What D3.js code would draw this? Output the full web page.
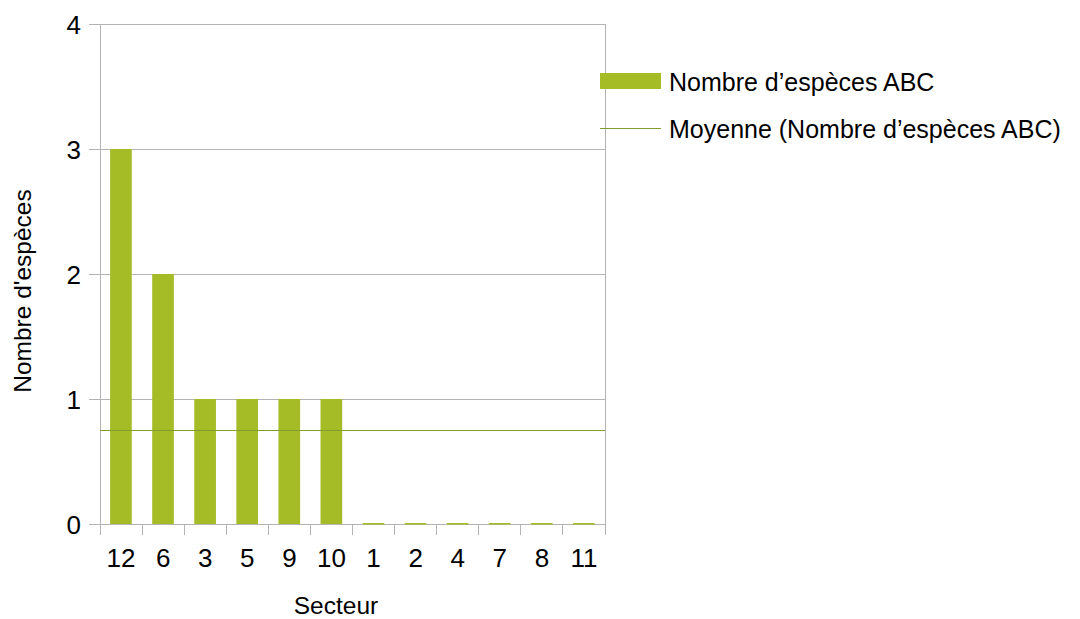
<!DOCTYPE html>
<html><head><meta charset="utf-8">
<script src="https://cdn.jsdelivr.net/npm/d3@7"></script>
<style>body{margin:0;background:#fff}svg{display:block;font-family:"Liberation Sans",Arial,sans-serif}</style>
</head><body><svg id="c" width="1080" height="619"></svg>
<script>
const categories = ["12","6","3","5","9","10","1","2","4","7","8","11"];
const values = [3,2,1,1,1,1,0,0,0,0,0,0];
const yTicks = [0,1,2,3,4];
const seriesName = "Nombre d\u2019espèces ABC";
const meanName = "Moyenne (Nombre d\u2019espèces ABC)";
const xTitle = "Secteur";
const yTitle = "Nombre d'espèces";

const svg = d3.select("#c");
const L=100, R=605, T=24, B=524;
const barColor="#a5bc27", meanColor="#7f9c2c", gridColor="#b3b3b3";
const x = d3.scaleBand().domain(categories).range([L,R]).padding(0);
const y = d3.scaleLinear().domain([0,4]).range([B,T]);
const mean = d3.mean(values);

// gridlines
svg.append("g").selectAll("line").data(yTicks).join("line")
  .attr("x1",L-11).attr("x2",R).attr("y1",d=>y(d)).attr("y2",d=>y(d))
  .attr("stroke",gridColor).attr("stroke-width",1).attr("shape-rendering","crispEdges");
// x ticks at band boundaries
const bounds = categories.map(c=>x(c)).concat([R]);
svg.append("g").selectAll("line").data(bounds).join("line")
  .attr("x1",d=>d).attr("x2",d=>d).attr("y1",B).attr("y2",B+11)
  .attr("stroke",gridColor).attr("shape-rendering","crispEdges");
// axis lines
svg.append("line").attr("x1",L).attr("x2",L).attr("y1",T).attr("y2",B+11).attr("stroke",gridColor).attr("shape-rendering","crispEdges");
svg.append("line").attr("x1",R).attr("x2",R).attr("y1",T).attr("y2",B+11).attr("stroke",gridColor).attr("shape-rendering","crispEdges");

// bars
const bw = x.bandwidth();
svg.append("g").selectAll("rect").data(categories.map((c,i)=>({c,v:values[i]}))).join("rect")
  .attr("x",d=>x(d.c)+bw*0.24).attr("width",bw*0.515)
  .attr("y",d=>d.v>0?y(d.v):B-1).attr("height",d=>d.v>0?B-y(d.v):1.5)
  .attr("fill",barColor);

// mean line
svg.append("line").attr("x1",L).attr("x2",R).attr("y1",Math.round(y(mean))+0.5).attr("y2",Math.round(y(mean))+0.5)
  .attr("stroke",meanColor).attr("stroke-width",1);

// tick labels
svg.append("g").selectAll("text").data(yTicks).join("text")
  .attr("x",81).attr("y",d=>y(d)+9.5).attr("text-anchor","end")
  .attr("font-size",26).attr("fill","#000").text(d=>d);
svg.append("g").selectAll("text").data(categories).join("text")
  .attr("x",d=>x(d)+bw/2).attr("y",567).attr("text-anchor","middle")
  .attr("font-size",26).attr("fill","#000").text(d=>d);

// axis titles
svg.append("text").attr("x",336).attr("y",614).attr("text-anchor","middle").attr("font-size",24.5).text(xTitle);
svg.append("text").attr("transform","translate(31,291) rotate(-90)").attr("text-anchor","middle").attr("font-size",24.5).text(yTitle);

// legend
svg.append("rect").attr("x",600).attr("y",73).attr("width",61).attr("height",16).attr("fill",barColor);
svg.append("text").attr("x",669).attr("y",90.5).attr("font-size",25).text(seriesName);
svg.append("line").attr("x1",600).attr("x2",661).attr("y1",128.5).attr("y2",128.5).attr("stroke",meanColor);
svg.append("text").attr("x",669).attr("y",137.5).attr("font-size",25).text(meanName);
</script></body></html>
